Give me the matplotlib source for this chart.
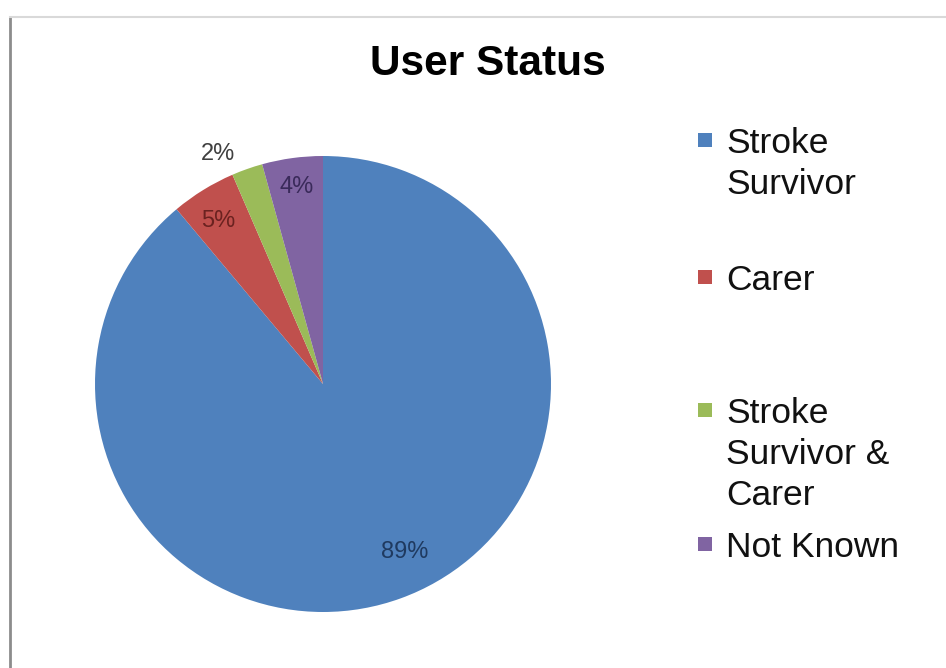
import numpy as np
import matplotlib
matplotlib.use('Agg')
import matplotlib.pyplot as plt
from matplotlib.lines import Line2D
from matplotlib.patches import Rectangle

labels = ['Stroke\nSurvivor', 'Carer', 'Stroke\nSurvivor &\nCarer', 'Not Known']
values = [88.9, 4.6, 2.2, 4.3]
colors = ['#4F81BD', '#C0504D', '#9BBB59', '#8064A2']
pct_colors = ['#1F3A60', '#6B2220', '#404040', '#3A2A5A']

# label placement (fraction of radius, angle tweak in degrees)
pct_dist = [0.82, 0.85, 1.11, 0.87]
pct_shift = [6, 1, 5, 0]
# baseline of first legend line, pixels from top
legend_base = [153, 290, 423, 557]
line_gap = 41

W, H = 946, 668
fig = plt.figure(figsize=(W / 100, H / 100), dpi=100)

cx, cy, r = 323, 384, 228
ax = fig.add_axes([(cx - r) / W, (H - cy - r) / H, 2 * r / W, 2 * r / H])
wedges, _ = ax.pie(values, colors=colors, startangle=90, counterclock=False,
                   radius=1, wedgeprops=dict(linewidth=0))
ax.set_xlim(-1, 1)
ax.set_ylim(-1, 1)
ax.set_aspect('equal')
ax.axis('off')

for w, v, d, s, c in zip(wedges, values, pct_dist, pct_shift, pct_colors):
    ang = np.deg2rad((w.theta1 + w.theta2) / 2 + s)
    ax.text(d * np.cos(ang), d * np.sin(ang), '%d%%' % round(v),
            ha='center', va='center', fontsize=17, color=c,
            family='Liberation Sans', clip_on=False)

fig.text(488 / W, 1 - 75 / H, 'User Status', ha='center', va='baseline',
         fontsize=30.5, fontweight='bold', family='Liberation Sans')

for lab, col, y in zip(labels, colors, legend_base):
    fig.patches.append(Rectangle((698 / W, 1 - (y - 6) / H), 14 / W, 14 / H,
                                 transform=fig.transFigure, facecolor=col,
                                 edgecolor='none'))
    for i, line in enumerate(lab.split('\n')):
        fig.text(726 / W, 1 - (y + i * line_gap) / H, line, ha='left',
                 va='baseline', fontsize=25.5, family='Liberation Sans',
                 color='#111111')

# frame lines
fig.add_artist(Line2D([10 / W, 10 / W], [0, 1 - 17 / H], color='#8c8c8c', lw=2,
                      transform=fig.transFigure))
fig.add_artist(Line2D([10 / W, 1], [1 - 17 / H, 1 - 17 / H], color='#d9d9d9', lw=1.5,
                      transform=fig.transFigure))

fig.savefig('out.png', dpi=100)
